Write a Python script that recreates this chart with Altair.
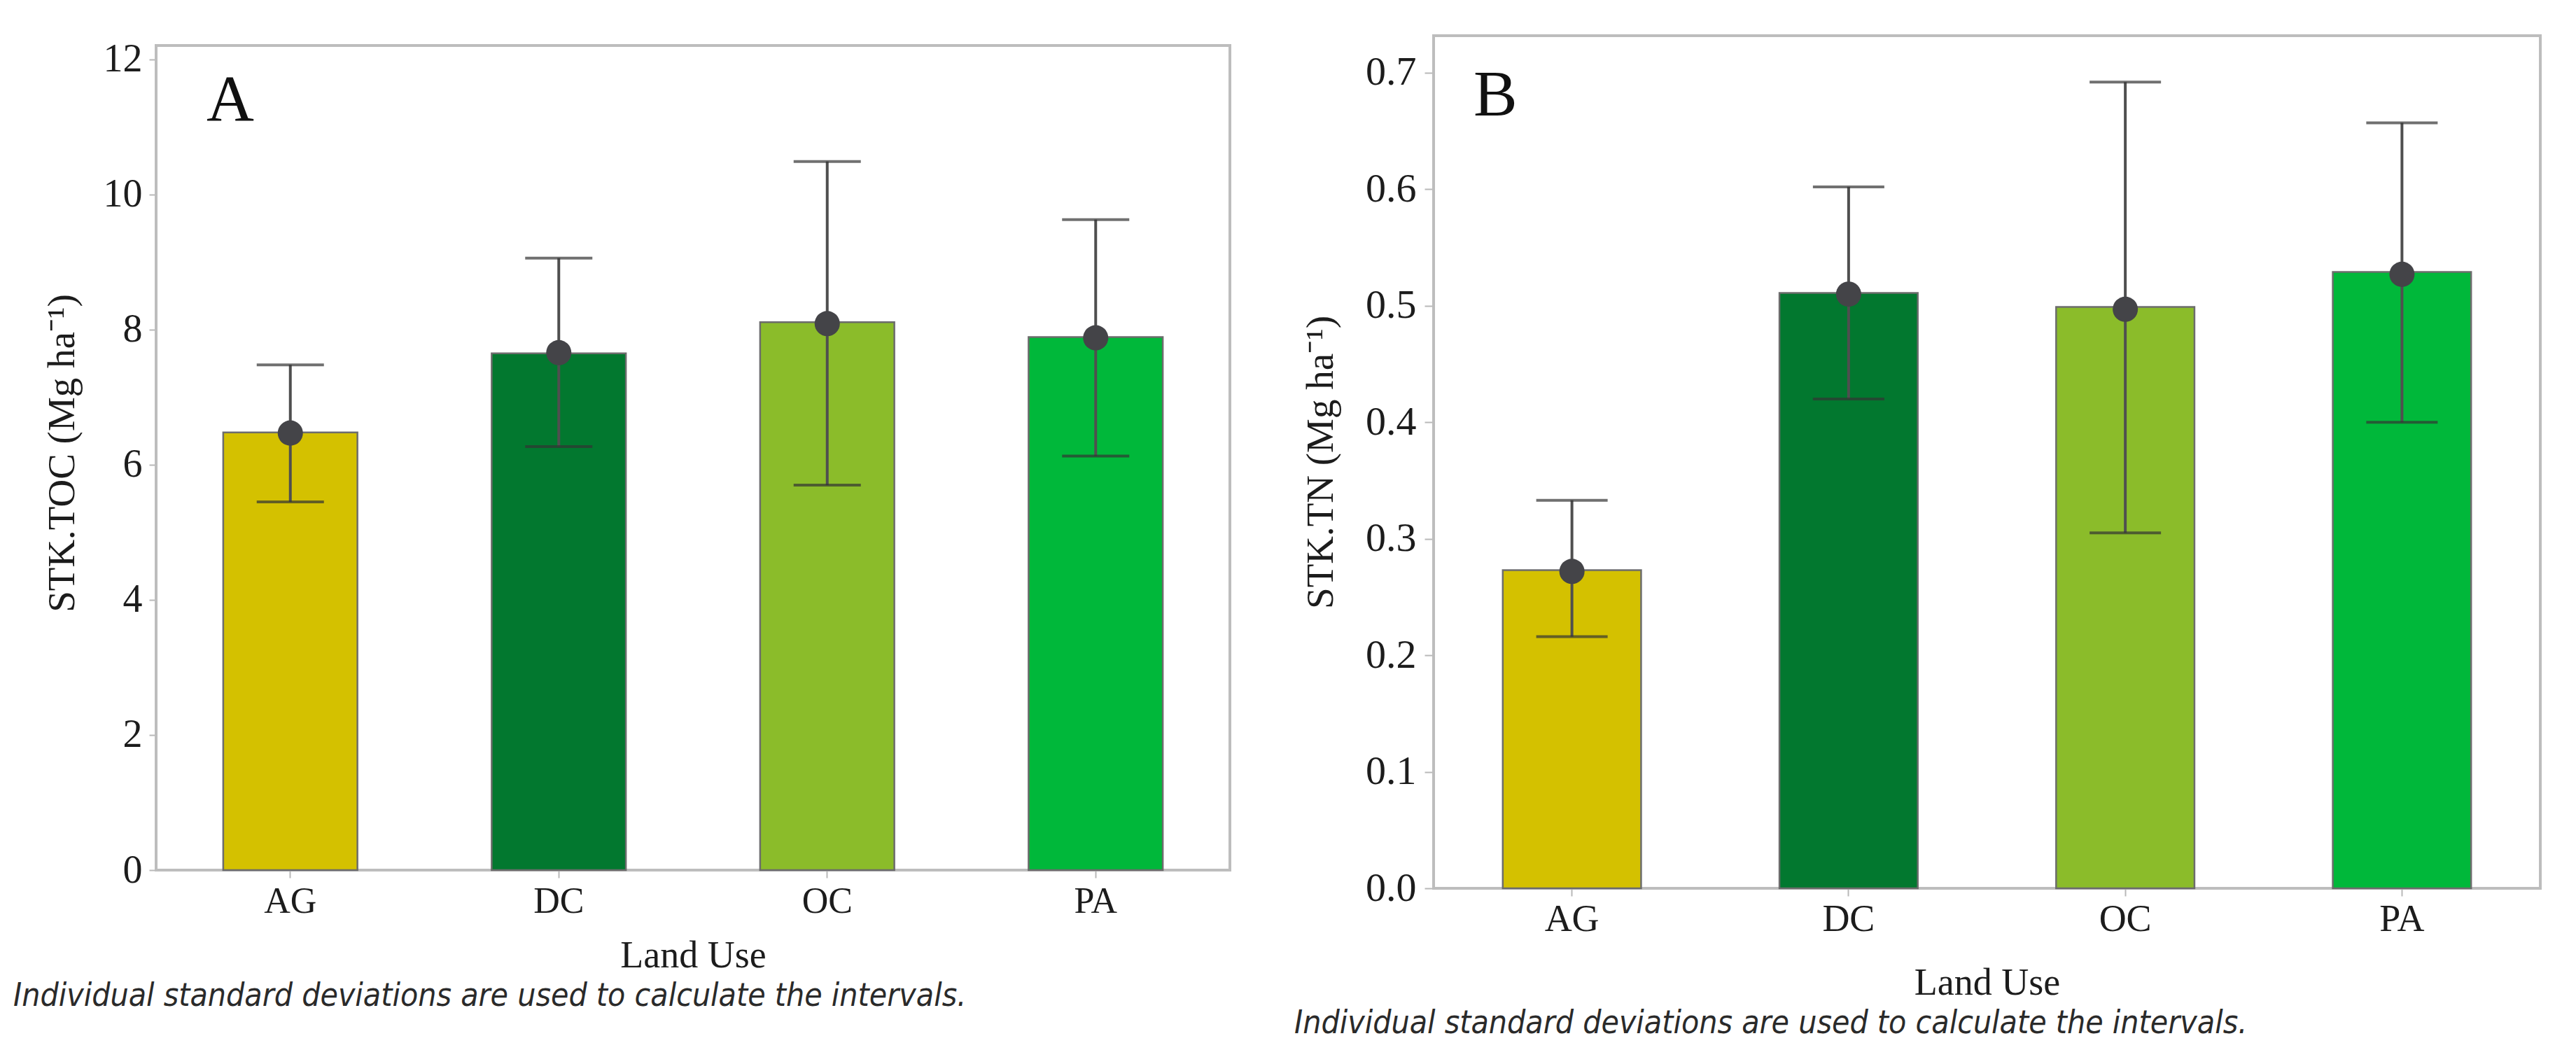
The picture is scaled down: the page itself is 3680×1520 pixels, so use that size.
import altair as alt
import pandas as pd

# ---------------- data ----------------
land_use = ["AG", "DC", "OC", "PA"]
bar_colors = ["#D4C100", "#02782F", "#8BBC2A", "#00B83A"]

toc_mean = [6.48, 7.65, 8.11, 7.89]
toc_dot = [6.47, 7.66, 8.09, 7.88]
toc_low = [5.45, 6.27, 5.70, 6.13]
toc_high = [7.48, 9.06, 10.49, 9.63]
toc_ticks = [0, 2, 4, 6, 8, 10, 12]

tn_mean = [0.273, 0.511, 0.499, 0.529]
tn_dot = [0.272, 0.510, 0.497, 0.527]
tn_low = [0.216, 0.420, 0.305, 0.400]
tn_high = [0.333, 0.602, 0.692, 0.657]
tn_ticks = [0.0, 0.1, 0.2, 0.3, 0.4, 0.5, 0.6, 0.7]

footnote = "Individual standard deviations are used to calculate the intervals."
x_title = "Land Use"

SERIF = "Liberation Serif"
FOOT_FONT = "Liberation Sans Narrow, DejaVu Sans Condensed, Liberation Sans"
TXT = "#1c1c1c"
FRAME = "#bdbdbd"


def panel(mean, dot, low, high, ticks, ymax, fmt, ytitle, letter, w, h,
          frame_top, tick_fs, xlab_fs, xlab_pad, ytick_len, ylab_pad,
          ytitle_pad, xtitle_pad, cap, letter_xy, foot_xy):
    df = pd.DataFrame({"lu": land_use, "mean": mean, "dot": dot,
                       "low": low, "high": high})
    xaxis = alt.Axis(title=x_title, labelAngle=0, labelFont=SERIF,
                     labelFontSize=xlab_fs, labelColor=TXT, domain=False,
                     ticks=True, tickSize=11, tickWidth=2, tickColor="#b8b8b8",
                     labelPadding=xlab_pad, titleFont=SERIF, titleFontSize=54,
                     titleFontWeight="normal", titleColor=TXT,
                     titlePadding=xtitle_pad)
    yaxis = alt.Axis(title=ytitle, values=ticks, format=fmt, labelFont=SERIF,
                     labelFontSize=tick_fs, labelColor=TXT, domain=False,
                     grid=False, tickSize=ytick_len, tickWidth=2,
                     tickColor="#b8b8b8", labelPadding=ylab_pad,
                     titleFont=SERIF, titleFontSize=55, titleFontWeight="normal",
                     titleColor=TXT, titlePadding=ytitle_pad)
    xs = alt.Scale(domain=land_use, paddingInner=0.5, paddingOuter=0.25)
    ys = alt.Scale(domain=[0, ymax], nice=False, zero=True)

    def X():
        return alt.X("lu:N", scale=xs, axis=xaxis, title=x_title)

    def Y(f):
        return alt.Y(f + ":Q", scale=ys, axis=yaxis, title=ytitle)

    one = pd.DataFrame({"t": [letter]})
    frame = alt.Chart(one).mark_rect(fillOpacity=0, stroke=FRAME,
                                     strokeWidth=4).encode(
        x=alt.value(0), x2=alt.value(w), y=alt.value(frame_top), y2=alt.value(h))

    base = alt.Chart(df)
    bars = base.mark_bar(stroke="#6c6c6c", strokeWidth=2.5).encode(
        x=X(), y=Y("mean"),
        color=alt.Color("lu:N", scale=alt.Scale(domain=land_use, range=bar_colors),
                        legend=None))
    rules = base.mark_rule(color="#4f4f4f", strokeWidth=4).encode(
        x=X(), y=Y("low"), y2="high:Q")
    cap_hi = base.mark_tick(color="#333333", thickness=4, size=cap).encode(
        x=X(), y=Y("high"))
    cap_lo = base.mark_tick(color="#333333", thickness=4, size=cap).encode(
        x=X(), y=Y("low"))
    dots = base.mark_circle(size=1300, color="#444448", opacity=1).encode(
        x=X(), y=Y("dot"))

    lab = alt.Chart(one).mark_text(
        font=SERIF, fontSize=94, align="left", baseline="alphabetic",
        color="#111111").encode(x=alt.value(letter_xy[0]),
                                y=alt.value(letter_xy[1]), text="t:N")
    foot = alt.Chart(pd.DataFrame({"t": [footnote]})).mark_text(
        font=FOOT_FONT, fontStyle="italic", fontSize=46, align="left",
        baseline="middle", color="#2a2a2a").encode(
        x=alt.value(foot_xy[0]), y=alt.value(foot_xy[1]), text="t:N")
    return alt.layer(frame, bars, rules, cap_hi, cap_lo, dots, lab,
                     foot).properties(width=w, height=h)


# Panel A: its frame sits 14 px lower than B's; the extra 14 px above the
# frame belong to the plot area, so the y domain is extended accordingly.
A_LIFT = 14
A_FRAME_H = 1178
a_top_value = 12.207 * (A_FRAME_H + A_LIFT) / A_FRAME_H

chart_a = panel(toc_mean, toc_dot, toc_low, toc_high, toc_ticks, a_top_value,
                ".0f", "STK.TOC (Mg ha⁻¹)", "A", 1534, A_FRAME_H + A_LIFT,
                frame_top=A_LIFT, tick_fs=56, xlab_fs=52, xlab_pad=8,
                ytick_len=10, ylab_pad=10, ytitle_pad=30, xtitle_pad=25, cap=96,
                letter_xy=(72, A_LIFT + 107), foot_xy=(-204, A_LIFT + 1358))

chart_b = panel(tn_mean, tn_dot, tn_low, tn_high, tn_ticks, 0.7318, ".1f",
                "STK.TN (Mg ha⁻¹)", "B", 1581, 1218,
                frame_top=0, tick_fs=58, xlab_fs=54, xlab_pad=6, ytick_len=13,
                ylab_pad=12, ytitle_pad=35, xtitle_pad=37, cap=102,
                letter_xy=(57, 114), foot_xy=(-199, 1411))

chart = alt.hconcat(chart_a, chart_b, spacing=90,
                    padding={"left": 11, "top": 41, "right": 5, "bottom": 5},
                    background="white").resolve_scale(
    x="independent", y="independent").configure_view(
    strokeOpacity=0)

chart.save("out.html", embed_options={"renderer": "svg", "actions": False})
